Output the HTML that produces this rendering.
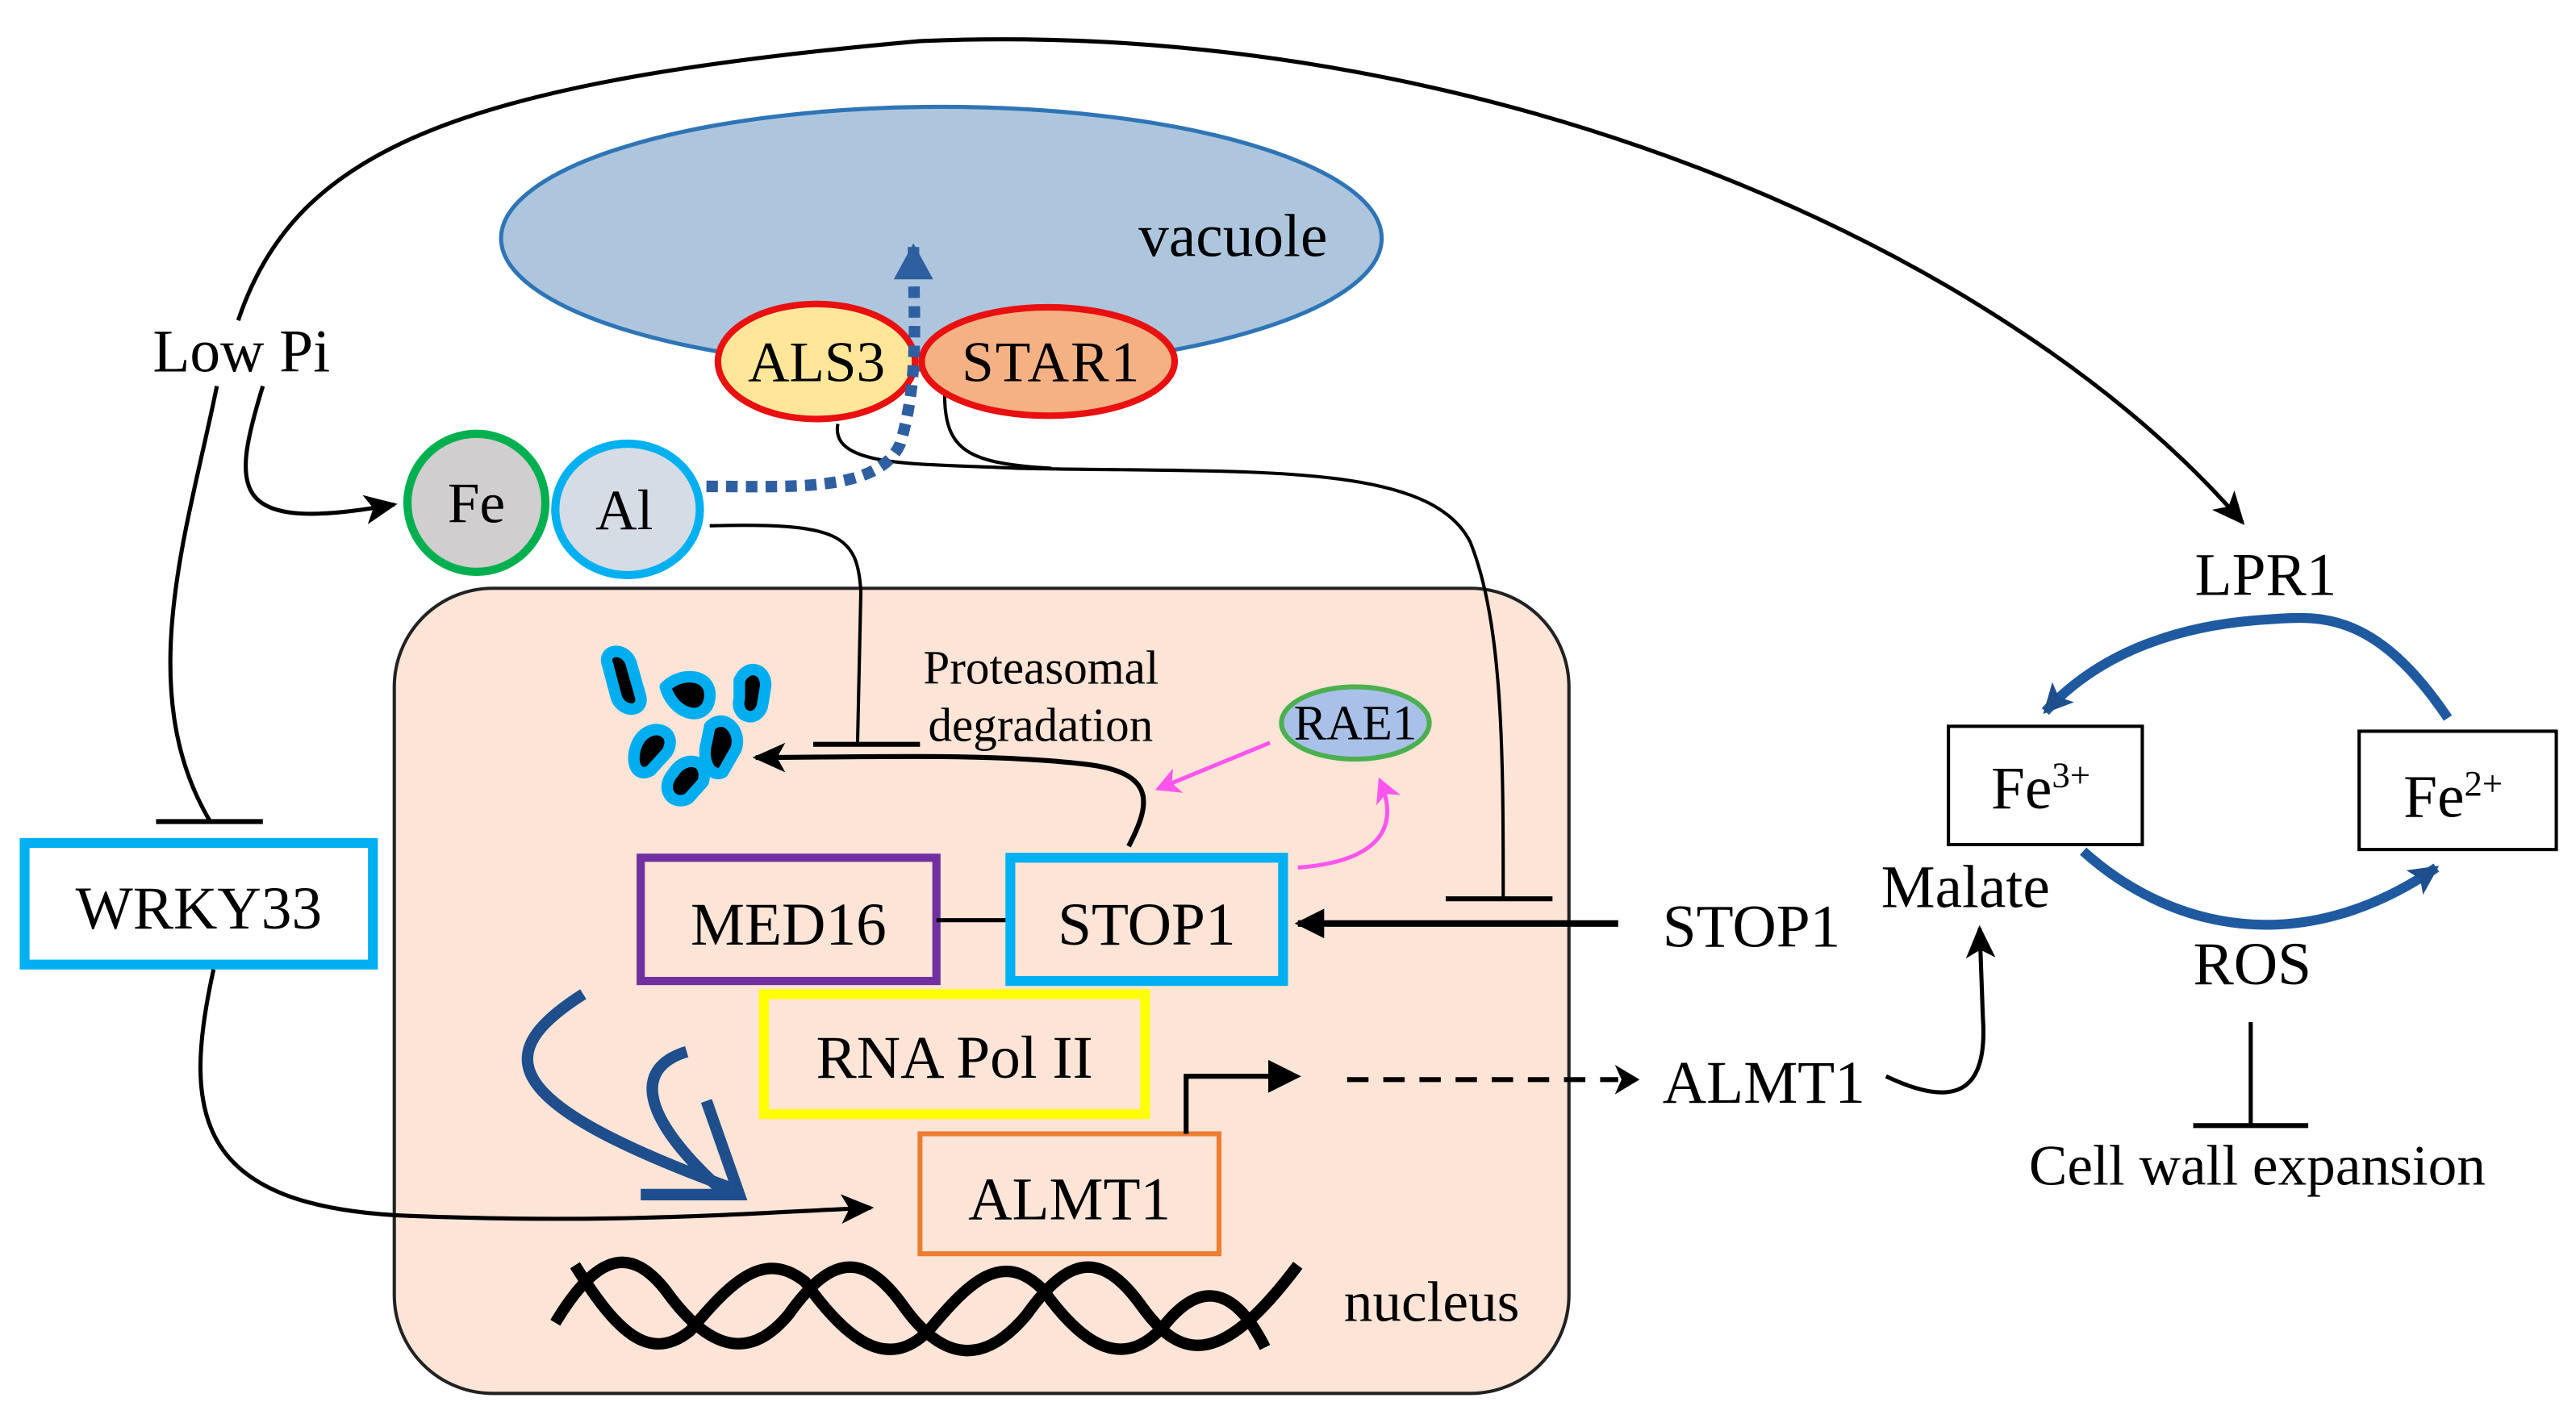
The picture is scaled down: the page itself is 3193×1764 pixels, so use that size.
<!DOCTYPE html>
<html><head><meta charset="utf-8"><style>
html,body{margin:0;padding:0;background:#fff;}
svg{display:block;}
text{font-family:"Liberation Serif",serif;fill:#000;}
</style></head><body>
<svg width="3193" height="1764" viewBox="0 0 1568 866" preserveAspectRatio="none" xmlns="http://www.w3.org/2000/svg">
<defs>
<marker id="ab2" markerWidth="22" markerHeight="22" refX="18" refY="11" orient="auto" markerUnits="userSpaceOnUse"><path d="M0,2 L20,11 L0,20 L5,11Z" fill="#000"/></marker>
<marker id="af" markerWidth="18" markerHeight="18" refX="16" refY="9" orient="auto" markerUnits="userSpaceOnUse"><path d="M0,0 L18,9 L0,18Z" fill="#000"/></marker>
<marker id="ablue" markerWidth="20" markerHeight="20" refX="16" refY="10" orient="auto" markerUnits="userSpaceOnUse"><path d="M0,1 L18,10 L0,19 L4,10Z" fill="#1f4e8c"/></marker>
<marker id="abd" markerWidth="24" markerHeight="24" refX="20" refY="12" orient="auto" markerUnits="userSpaceOnUse"><path d="M0,0 L22,12 L0,24 Z" fill="#2e5fa0"/></marker>
<marker id="am" markerWidth="16" markerHeight="16" refX="13" refY="8" orient="auto" markerUnits="userSpaceOnUse"><path d="M0,0 L15,8 L0,16 L4,8Z" fill="#ff55ee"/></marker>
</defs>

<rect x="240" y="358" width="715" height="490" rx="60" fill="#fce4d6" stroke="#222" stroke-width="2"/>

<path d="M145,195 C180,90 280,50 560,25 C900,10 1220,150 1365,318" fill="none" stroke="#000" stroke-width="2.5" marker-end="url(#ab2)"/>
<text x="93" y="226" font-size="37">Low Pi</text>
<path d="M132,235 C115,320 80,420 128,500" fill="none" stroke="#000" stroke-width="2.5"/>
<line x1="95" y1="500" x2="160" y2="500" stroke="#000" stroke-width="3"/>
<path d="M160,235 C140,300 140,325 240,307" fill="none" stroke="#000" stroke-width="2.5" marker-end="url(#ab2)"/>

<ellipse cx="573" cy="145" rx="268" ry="80" fill="#adc6de" stroke="#2e75b6" stroke-width="2.5"/>
<text x="693" y="156" font-size="37">vacuole</text>

<path d="M510,258 C505,285 560,282 620,285 C760,288 870,280 895,330 C915,380 915,460 915,547" fill="none" stroke="#000" stroke-width="2"/>
<path d="M575,240 C575,275 590,282 640,285" fill="none" stroke="#000" stroke-width="2"/>
<line x1="880" y1="547" x2="945" y2="547" stroke="#000" stroke-width="3"/>

<ellipse cx="497" cy="220" rx="60" ry="35" fill="#ffe699" stroke="#e81010" stroke-width="4"/>
<text x="497" y="232" font-size="35" text-anchor="middle">ALS3</text>
<ellipse cx="638" cy="220" rx="77" ry="33" fill="#f4b183" stroke="#e81010" stroke-width="4"/>
<text x="640" y="232" font-size="35" text-anchor="middle" letter-spacing="1">STAR1</text>

<path d="M430,296 C480,296 535,300 548,270 C560,230 556,190 556,150" fill="none" stroke="#2e5fa0" stroke-width="7" stroke-dasharray="7,5" marker-end="url(#abd)"/>

<circle cx="290" cy="306" r="42" fill="#d0cece" stroke="#00b050" stroke-width="5"/>
<text x="290" y="318" font-size="35" text-anchor="middle">Fe</text>
<ellipse cx="382" cy="310" rx="44" ry="40" fill="#d6dce5" stroke="#00b0f0" stroke-width="5"/>
<text x="380" y="322" font-size="35" text-anchor="middle">Al</text>

<path d="M432,320 C510,318 522,325 524,360 L522,452" fill="none" stroke="#000" stroke-width="2"/>
<line x1="495" y1="453" x2="560" y2="453" stroke="#000" stroke-width="3"/>

<g fill="#000" stroke="#00aeef" stroke-width="7" stroke-linejoin="round">
<path d="M370,405 C366,395 380,393 384,403 L390,424 C392,434 378,434 375,424Z"/>
<path d="M405,418 C415,408 434,410 432,425 C430,440 410,436 405,418Z"/>
<path d="M450,414 C455,403 467,407 466,418 L464,430 C460,441 447,436 450,425Z"/>
<path d="M388,452 C395,438 414,444 406,458 L396,469 C387,474 383,463 388,452Z"/>
<path d="M432,442 C441,433 452,445 448,456 L440,470 C432,474 427,462 430,452Z"/>
<path d="M410,470 C417,459 432,462 428,476 L419,486 C409,491 401,480 410,470Z"/>
</g>

<text x="562" y="416" font-size="29">Proteasomal</text>
<text x="565" y="451" font-size="29">degradation</text>

<path d="M687,515 C700,490 705,470 660,465 C600,458 520,461 460,461" fill="none" stroke="#000" stroke-width="3" marker-end="url(#ab2)"/>

<ellipse cx="825" cy="440" rx="45" ry="22" fill="#a9c0e8" stroke="#4caf50" stroke-width="3"/>
<text x="825" y="450" font-size="30" text-anchor="middle">RAE1</text>
<path d="M773,452 L705,480" fill="none" stroke="#ff55ee" stroke-width="2.5" marker-end="url(#am)"/>
<path d="M790,528 C830,525 855,510 840,475" fill="none" stroke="#ff55ee" stroke-width="2.5" marker-end="url(#am)"/>

<rect x="390" y="522" width="180" height="75" fill="none" stroke="#7030a0" stroke-width="5"/>
<text x="480" y="575" font-size="37" text-anchor="middle">MED16</text>
<line x1="570" y1="560" x2="615" y2="560" stroke="#000" stroke-width="2.5"/>
<rect x="615" y="522" width="166" height="75" fill="none" stroke="#00b0f0" stroke-width="6"/>
<text x="698" y="575" font-size="37" text-anchor="middle">STOP1</text>

<line x1="985" y1="562" x2="790" y2="562" stroke="#000" stroke-width="4" marker-end="url(#af)"/>
<text x="1012" y="576" font-size="37">STOP1</text>

<rect x="465" y="605" width="232" height="73" fill="none" stroke="#ffff00" stroke-width="6"/>
<text x="581" y="656" font-size="37" text-anchor="middle">RNA Pol II</text>

<rect x="560" y="690" width="182" height="73" fill="none" stroke="#ed7d31" stroke-width="3"/>
<text x="651" y="742" font-size="37" text-anchor="middle">ALMT1</text>

<path d="M722,690 L722,655 L775,655" fill="none" stroke="#000" stroke-width="3"/>
<path d="M772,645 L792,655 L772,665Z" fill="#000"/>
<line x1="820" y1="657" x2="985" y2="657" stroke="#000" stroke-width="3" stroke-dasharray="13,9"/>
<path d="M983,648 L998,657 L983,666 L987,657Z" fill="#000"/>
<text x="1012" y="671" font-size="37">ALMT1</text>
<path d="M1148,655 C1190,675 1210,665 1207,620 L1205,565" fill="none" stroke="#000" stroke-width="2.5" marker-end="url(#ab2)"/>
<text x="1145" y="552" font-size="37">Malate</text>

<rect x="15" y="513" width="212" height="74" fill="none" stroke="#00b0f0" stroke-width="6"/>
<text x="121" y="565" font-size="37" text-anchor="middle">WRKY33</text>
<path d="M130,590 C110,680 120,735 250,740 C380,745 460,738 530,735" fill="none" stroke="#000" stroke-width="2.5" marker-end="url(#ab2)"/>

<path d="M355,605 C300,640 300,670 445,723" fill="none" stroke="#1f4e8c" stroke-width="7"/>
<path d="M418,640 C385,650 390,680 440,725" fill="none" stroke="#1f4e8c" stroke-width="7"/>
<path d="M390,727 L450,727 L430,670" fill="none" stroke="#1f4e8c" stroke-width="7"/>

<path d="M338,805 C365,760 385,760 405,785 C430,820 455,830 480,800 C505,765 525,760 550,795 C575,830 600,830 625,800 C650,765 670,760 695,795 C720,830 745,830 790,770" fill="none" stroke="#000" stroke-width="7"/>
<path d="M350,770 C375,810 395,830 420,810 C445,780 465,760 490,780 C515,815 540,835 565,810 C590,780 610,760 635,785 C660,820 685,835 710,805 C735,775 755,790 770,820" fill="none" stroke="#000" stroke-width="7"/>
<text x="818" y="804" font-size="35">nucleus</text>

<text x="1336" y="362" font-size="37">LPR1</text>
<rect x="1186" y="442" width="118" height="72" fill="#fff" stroke="#000" stroke-width="2"/>
<text x="1212" y="492" font-size="37">Fe<tspan font-size="22" dy="-13">3+</tspan></text>
<rect x="1436" y="445" width="120" height="72" fill="#fff" stroke="#000" stroke-width="2"/>
<text x="1463" y="497" font-size="37">Fe<tspan font-size="22" dy="-13">2+</tspan></text>
<path d="M1490,437 C1445,370 1410,375 1380,377 C1330,380 1280,395 1245,433" fill="none" stroke="#1f5aa0" stroke-width="6" marker-end="url(#ablue)"/>
<path d="M1268,518 C1320,565 1400,585 1483,528" fill="none" stroke="#1f5aa0" stroke-width="6" marker-end="url(#ablue)"/>
<text x="1335" y="599" font-size="37">ROS</text>
<line x1="1370" y1="622" x2="1370" y2="685" stroke="#000" stroke-width="2.5"/>
<line x1="1335" y1="685" x2="1405" y2="685" stroke="#000" stroke-width="3"/>
<text x="1235" y="721" font-size="35">Cell wall expansion</text>
</svg>
</body></html>
